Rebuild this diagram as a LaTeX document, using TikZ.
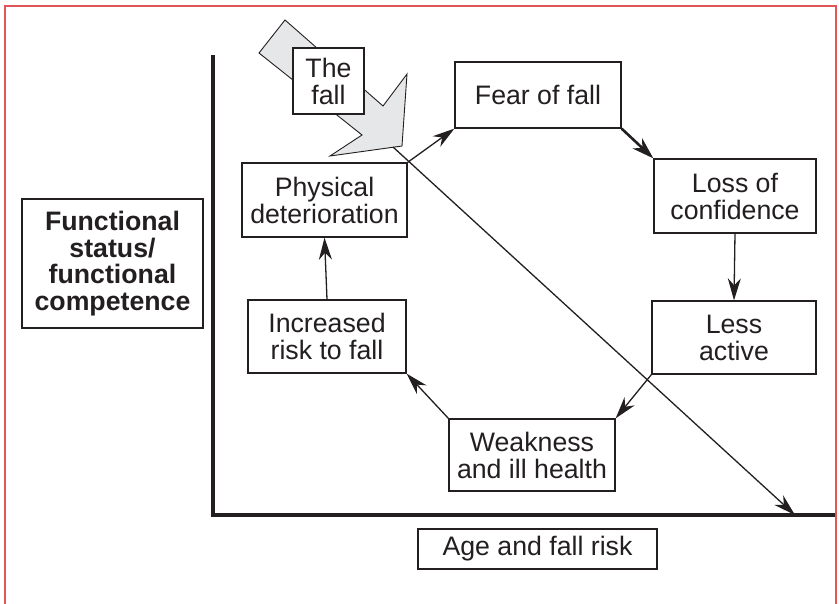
\documentclass[tikz,border=0pt]{standalone}
\usepackage{fontspec}
\setmainfont{Liberation Sans}
\usetikzlibrary{arrows.meta}
\definecolor{frame}{HTML}{E05555}
\definecolor{fallgray}{HTML}{E6E7E8}
\definecolor{ink}{HTML}{231F20}
\tikzset{
  box/.style={draw=ink, line width=1.3pt, fill=white, inner sep=0pt, align=center,
    font=\fontsize{26.7}{27}\selectfont, text=ink},
  arr/.style={draw=ink, line width=1.3pt, -{Stealth[length=22pt,width=13pt,inset=7pt]}},
  thickarr/.style={draw=ink, line width=2.6pt, -{Stealth[length=22pt,width=14pt,inset=7pt]}},
  axisline/.style={draw=ink, line width=3.6pt, line join=miter},
}
\begin{document}
\begin{tikzpicture}[x=1pt,y=-1pt]
\useasboundingbox (0,0) rectangle (839,604);
% red frame
\draw[frame, line width=1.2pt] (5,604) -- (5,6) -- (836,6) -- (836,604);
% axes
\coordinate (ytop) at (213,55);
\coordinate (orig) at (213,515);
\coordinate (xend) at (835,515);
\draw[axisline] (ytop) -- (orig) -- (xend);
% the fall arrow
\draw[draw=ink, fill=fallgray, line width=0.9pt, line join=miter]
  (285,20) -- (259,53) -- (362,135) -- (330,156) -- (402,146) -- (407,74) -- (383,106) -- cycle;
% diagonal decline line
\coordinate (d1) at (393,147);
\coordinate (d2) at (795,515);
\draw[arr] (d1) -- (d2);
% boxes
\node[box, minimum width=71pt, minimum height=66pt] (fall) at (328.5,81) {The\\fall};
\node[box, minimum width=166pt, minimum height=66pt] (fear) at (538,95) {Fear of fall};
\node[box, minimum width=162pt, minimum height=74pt] (loss) at (735,196) {Loss of\\confidence};
\node[box, minimum width=164pt, minimum height=73pt] (less) at (734,337.5) {Less\\active};
\node[box, minimum width=166pt, minimum height=72pt] (weak) at (532,455) {Weakness\\and ill health};
\node[box, minimum width=158pt, minimum height=73pt] (incr) at (327,336.5) {Increased\\risk to fall};
\node[box, minimum width=165pt, minimum height=74pt] (phys) at (324.5,200) {Physical\\deterioration};
\node[box, minimum width=181pt, minimum height=129pt, font=\fontsize{26.7}{26.5}\selectfont\bfseries] (func) at (112.5,263.5) {Functional\\status/\\functional\\competence};
\node[box, minimum width=239pt, minimum height=40pt] (age) at (537.5,549) {Age and fall risk};
% cycle arrows
\draw[arr] (phys.north east) -- (fear.south west);
\draw[thickarr] (fear.south east) -- (loss.north west);
\draw[arr] (loss.south) -- (less.north);
\draw[arr] (less.south west) -- (weak.north east);
\draw[arr] (weak.north west) -- (incr.south east);
\draw[arr] (incr.north) -- (phys.south);
\end{tikzpicture}
\end{document}
